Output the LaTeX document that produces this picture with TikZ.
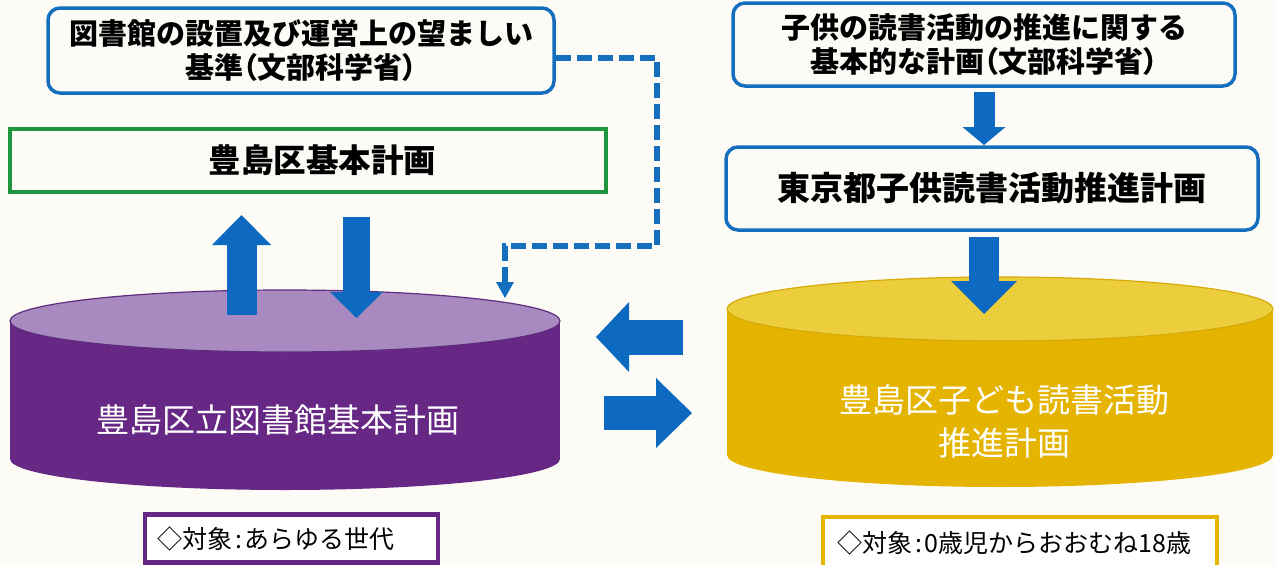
\documentclass[tikz,border=0pt]{standalone}
\usepackage{fontspec}
\setmainfont{Noto Sans CJK JP}
\usetikzlibrary{arrows.meta}
\definecolor{bg}{RGB}{252,251,246}
\definecolor{boxblue}{RGB}{22,110,190}
\definecolor{arrowblue}{RGB}{14,106,192}
\definecolor{boxgreen}{RGB}{30,150,60}
\definecolor{purpbody}{RGB}{102,40,132}
\definecolor{purptop}{RGB}{168,138,192}
\definecolor{purpedge}{RGB}{95,45,125}
\definecolor{yelbody}{RGB}{228,180,0}
\definecolor{yeltop}{RGB}{236,205,60}
\definecolor{yeledge}{RGB}{215,170,10}
\newcommand\plp{{\addfontfeature{RawFeature=+palt}（}}
\newcommand\prp{{\addfontfeature{RawFeature=+palt}）}}
\newcommand\tcolon{\kern3pt:\kern3pt}
\begin{document}
\begin{tikzpicture}[x=1pt,y=-1pt,
  bluebox/.style={draw=boxblue, line width=3.5pt, rounded corners=12pt, align=center, inner sep=0pt},
  greenbox/.style={draw=boxgreen, line width=4pt, align=center, inner sep=0pt},
  titlefont/.style={font=\bfseries\fontsize{29}{34}\selectfont},
  bigfont/.style={font=\bfseries\fontsize{33}{40}\selectfont},
  cyltext/.style={text=white, align=center, font=\fontsize{33}{43}\selectfont},
  labelbox/.style={fill=white, line width=4.5pt, align=left, inner ysep=0pt, font=\fontsize{25}{30}\selectfont},
  barrow/.style n args={3}{draw=arrowblue, line width=#1, -{Triangle[length=#2, width=#3, line width=0pt]}},
  dashconn/.style={draw=boxblue, line width=5.5pt, dash pattern=on 15pt off 6pt, -{Triangle[length=16pt, width=18pt, line width=0pt]}}
]
\useasboundingbox (0,0) rectangle (1275,565);
\fill[bg] (0,0) rectangle (1275,565);

% top-left box
\node[bluebox, titlefont, minimum width=506pt, minimum height=85pt] (tl) at (301,50.5)
  {図書館の設置及び運営上の望ましい\\基準\plp 文部科学省\prp};
% green box
\node[greenbox, minimum width=596pt, minimum height=63pt, font=\bfseries\fontsize{32.5}{38}\selectfont] (plan) at (308,160.5)
  {\hspace*{29pt}豊島区基本計画};
% top-right boxes
\node[bluebox, titlefont, minimum width=502pt, minimum height=83pt] (tr) at (984,44.5)
  {子供の読書活動の推進に関する\\基本的な計画\plp 文部科学省\prp};
\node[bluebox, bigfont, minimum width=532pt, minimum height=83pt] (tokyo) at (992,188.5)
  {東京都子供読書活動推進計画};

% purple cylinder
\fill[purpbody] (10,321) rectangle (560,459);
\fill[purpbody] (285,459) ellipse [x radius=275pt, y radius=31pt];
\filldraw[fill=purptop, draw=purpedge, line width=1.2pt] (285,321) ellipse [x radius=275pt, y radius=31pt];
\node[cyltext] (lib) at (278,420) {豊島区立図書館基本計画};

% yellow cylinder
\fill[yelbody] (727,309) rectangle (1273,455);
\fill[yelbody] (1000,455) ellipse [x radius=273pt, y radius=32pt];
\filldraw[fill=yeltop, draw=yeledge, line width=1.2pt] (1000,309) ellipse [x radius=273pt, y radius=32pt];
\node[cyltext] (kids) at (1004,421.5) {豊島区子ども読書活動\\推進計画};

% bottom labels
\node[labelbox, draw=purpbody, text width=269pt, inner xsep=12pt, minimum height=48pt] (libtarget) at (291.5,538.5)
  {◇対象\tcolon あらゆる世代};
\node[labelbox, draw=yelbody, text width=366pt, inner xsep=14pt, minimum height=52pt] (kidstarget) at (1020,543)
  {◇対象\tcolon 0歳児からおおむね18歳};

% arrow end points
\coordinate (upS) at (241.5,315);
\coordinate (upE) at (241.5,215);
\coordinate (dnS) at (356.5,217);
\coordinate (dnE) at (356.5,318);
\coordinate (trS) at (984,92);
\coordinate (trE) at (984,145);
\coordinate (tkS) at (984,237);
\coordinate (tkE) at (984,314);
\coordinate (lfS) at (683,337);
\coordinate (lfE) at (596,337);
\coordinate (rtS) at (604,413);
\coordinate (rtE) at (692,413);
\coordinate (dsS) at (tl.east |- 0,58);
\coordinate (dsM) at (657,246);
\coordinate (dsE) at (505,298);

\draw[barrow={30pt}{30pt}{59pt}] (upS) -- (upE);
\draw[barrow={27pt}{26pt}{53pt}] (dnS) -- (dnE);
\draw[barrow={21pt}{18pt}{43pt}] (trS) -- (trE);
\draw[barrow={30pt}{33pt}{66pt}] (tkS) -- (tkE);
\draw[barrow={35pt}{33pt}{70pt}] (lfS) -- (lfE);
\draw[barrow={34pt}{36pt}{70pt}] (rtS) -- (rtE);
\draw[dashconn] (dsS) -| (dsM) -| (dsE);
\end{tikzpicture}
\end{document}
